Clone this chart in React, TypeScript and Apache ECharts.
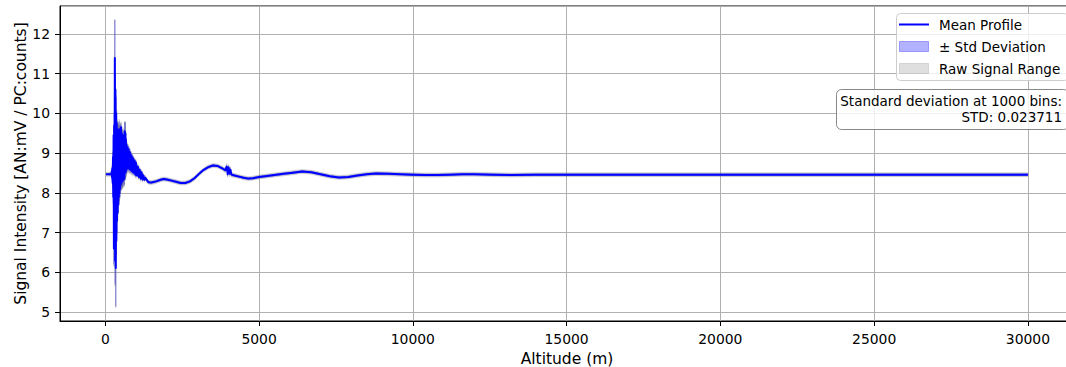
import React, { useEffect, useRef } from "react";
import * as echarts from "echarts";

// ---- Data ----
const altitude = [
  26, 100, 200, 210, 220, 230, 240, 250, 260, 270,
  280, 290, 300, 310, 320, 330, 340, 350, 360, 370,
  380, 390, 400, 410, 420, 430, 440, 450, 460, 470,
  480, 490, 500, 510, 520, 530, 540, 550, 560, 570,
  580, 590, 600, 610, 620, 630, 640, 650, 660, 670,
  680, 690, 700, 720, 740, 760, 780, 800, 820, 840,
  860, 880, 900, 920, 940, 960, 980, 1000, 1030, 1060,
  1090, 1120, 1150, 1180, 1210, 1240, 1270, 1300, 1400, 1500,
  1650, 1800, 1900, 2000, 2150, 2300, 2450, 2600, 2750, 2900,
  3050, 3200, 3350, 3500, 3650, 3800, 3900, 3950, 3980, 4010,
  4040, 4070, 4100, 4200, 4350, 4500, 4650, 4800, 5000, 5200,
  5500, 5800, 6100, 6400, 6700, 7000, 7300, 7600, 7900, 8200,
  8500, 8800, 9200, 9600, 10000, 10400, 10800, 11200, 11600, 12000,
  12600, 13200, 14000, 15000, 16500, 18000, 19500, 21000, 22500, 24000,
  25500, 27000, 28500, 30000,
];

const meanSignal = [
  8.47, 8.47, 8.47, 8.55, 8.38, 8.62, 8.25, 8.9, 7.9, 9.45,
  6.6, 9.7, 7.0, 11.39, 6.3, 10.6, 6.11, 10.0, 6.8, 9.75,
  7.3, 9.6, 7.5, 9.55, 7.7, 9.5, 7.9, 9.6, 8.0, 9.5,
  8.1, 9.55, 8.2, 9.65, 8.25, 9.5, 8.28, 9.4, 8.3, 9.45,
  8.32, 9.3, 8.38, 9.4, 8.35, 9.55, 8.5, 9.5, 8.52, 9.35,
  8.56, 9.2, 8.6, 9.15, 8.62, 9.1, 8.6, 9.02, 8.58, 8.95,
  8.55, 8.9, 8.52, 8.85, 8.5, 8.8, 8.46, 8.75, 8.44, 8.66,
  8.4, 8.58, 8.36, 8.52, 8.34, 8.44, 8.33, 8.38, 8.27, 8.26,
  8.29, 8.33, 8.35, 8.34, 8.31, 8.28, 8.25, 8.25, 8.29, 8.37,
  8.48, 8.58, 8.65, 8.69, 8.68, 8.62, 8.57, 8.66, 8.47, 8.64,
  8.49, 8.58, 8.46, 8.44, 8.41, 8.38, 8.36, 8.37, 8.4, 8.42,
  8.45, 8.48, 8.51, 8.54, 8.52, 8.47, 8.42, 8.39, 8.4, 8.44,
  8.47, 8.49, 8.48, 8.47, 8.46, 8.45, 8.45, 8.46, 8.47, 8.47,
  8.46, 8.45, 8.46, 8.46, 8.46, 8.46, 8.46, 8.46, 8.46, 8.46,
  8.46, 8.46, 8.46, 8.46,
];

const stdDev = [
  0.02, 0.02, 0.03, 0.05, 0.05, 0.08, 0.1, 0.12, 0.15, 0.2,
  0.4, 0.3, 0.4, 0.96, 0.6, 0.4, 0.97, 0.4, 0.35, 0.3,
  0.3, 0.2, 0.2, 0.2, 0.2, 0.2, 0.2, 0.2, 0.2, 0.2,
  0.2, 0.15, 0.15, 0.1, 0.15, 0.15, 0.15, 0.15, 0.15, 0.15,
  0.15, 0.15, 0.15, 0.15, 0.15, 0.22, 0.15, 0.28, 0.15, 0.15,
  0.12, 0.1, 0.1, 0.08, 0.08, 0.08, 0.08, 0.07, 0.07, 0.07,
  0.06, 0.06, 0.06, 0.05, 0.05, 0.05, 0.05, 0.05, 0.04, 0.04,
  0.04, 0.04, 0.04, 0.03, 0.03, 0.03, 0.03, 0.03, 0.025, 0.025,
  0.025, 0.025, 0.025, 0.025, 0.025, 0.025, 0.025, 0.025, 0.025, 0.025,
  0.025, 0.025, 0.025, 0.025, 0.025, 0.025, 0.03, 0.04, 0.04, 0.04,
  0.04, 0.04, 0.03, 0.025, 0.025, 0.025, 0.025, 0.025, 0.025, 0.025,
  0.025, 0.025, 0.025, 0.025, 0.025, 0.025, 0.025, 0.025, 0.025, 0.025,
  0.025, 0.025, 0.025, 0.025, 0.025, 0.025, 0.025, 0.025, 0.025, 0.025,
  0.025, 0.025, 0.025, 0.025, 0.025, 0.025, 0.025, 0.025, 0.025, 0.025,
  0.025, 0.025, 0.025, 0.025,
];

const rawSpread = [
  0.05, 0.05, 0.06, 0.09, 0.09, 0.12, 0.14, 0.16, 0.2, 0.25,
  0.45, 0.35, 0.45, 0.98, 0.65, 0.45, 0.99, 0.45, 0.4, 0.35,
  0.35, 0.25, 0.25, 0.25, 0.25, 0.25, 0.25, 0.25, 0.25, 0.25,
  0.25, 0.2, 0.2, 0.15, 0.2, 0.2, 0.2, 0.2, 0.2, 0.2,
  0.2, 0.2, 0.2, 0.2, 0.2, 0.25, 0.2, 0.3, 0.2, 0.2,
  0.16, 0.14, 0.14, 0.12, 0.12, 0.12, 0.12, 0.11, 0.11, 0.11,
  0.1, 0.1, 0.1, 0.09, 0.09, 0.09, 0.09, 0.09, 0.08, 0.08,
  0.08, 0.08, 0.08, 0.07, 0.07, 0.06, 0.06, 0.06, 0.05, 0.05,
  0.05, 0.05, 0.05, 0.05, 0.05, 0.05, 0.05, 0.05, 0.05, 0.05,
  0.05, 0.05, 0.05, 0.05, 0.05, 0.05, 0.06, 0.08, 0.08, 0.08,
  0.08, 0.08, 0.06, 0.05, 0.05, 0.05, 0.05, 0.05, 0.05, 0.05,
  0.05, 0.05, 0.05, 0.05, 0.05, 0.05, 0.05, 0.05, 0.05, 0.05,
  0.05, 0.05, 0.05, 0.05, 0.05, 0.05, 0.05, 0.05, 0.05, 0.05,
  0.05, 0.05, 0.05, 0.05, 0.05, 0.05, 0.05, 0.05, 0.05, 0.05,
  0.05, 0.05, 0.05, 0.05,
];

const legendLabels = ["Mean Profile", "± Std Deviation", "Raw Signal Range"];
const annotationLines = ["Standard deviation at 1000 bins:", "STD: 0.023711"];

const FONT = "DejaVu Sans";
const STD_COLOR = "rgba(0,0,255,0.3)";
const RAW_COLOR = "rgba(128,128,128,0.25)";

function bandSeries(name: string, low: number[], high: number[], color: string, z: number) {
  const data = altitude.map((a, i) => [a, low[i], high[i]]);
  return {
    type: "custom",
    name,
    z,
    clip: true,
    silent: true,
    data,
    encode: { x: 0, y: [1, 2] },
    renderItem: (params: any, api: any) => {
      if (params.dataIndex !== 0) return null;
      const top = data.map((d) => api.coord([d[0], d[2]]));
      const bottom = data.map((d) => api.coord([d[0], d[1]])).reverse();
      return {
        type: "polygon",
        shape: { points: top.concat(bottom) },
        style: { fill: color, stroke: color, lineWidth: 1, lineJoin: "round" },
      };
    },
  };
}

export default function App() {
  const ref = useRef<HTMLDivElement>(null);

  useEffect(() => {
    if (!ref.current) return;
    const chart = echarts.init(ref.current, undefined, { renderer: "svg" });

    const stdLow = meanSignal.map((m, i) => m - stdDev[i]);
    const stdHigh = meanSignal.map((m, i) => m + stdDev[i]);
    const rawLow = meanSignal.map((m, i) => m - rawSpread[i]);
    const rawHigh = meanSignal.map((m, i) => m + rawSpread[i]);

    const textBase = { fontFamily: FONT, fontSize: 13.5, fill: "#000" };
    const axisCommon = {
      axisLine: { show: true, onZero: false, lineStyle: { color: "#000", width: 1 } },
      axisTick: { show: true, length: 5, lineStyle: { color: "#000", width: 1 } },
      splitLine: { show: true, lineStyle: { color: "#b0b0b0", width: 1 } },
    };

    chart.setOption({
      animation: false,
      backgroundColor: "#fff",
      grid: {
        left: 60,
        top: 6,
        width: 1014,
        height: 315,
        containLabel: false,
        outerBoundsMode: "none",
        show: true,
        borderColor: "#000",
        borderWidth: 1,
        backgroundColor: "transparent",
      },
      xAxis: {
        type: "value",
        min: -1473,
        max: 31499,
        minInterval: 5000,
        maxInterval: 5000,
        ...axisCommon,
        axisLabel: {
          color: "#000",
          fontSize: 13.9,
          fontFamily: FONT,
          margin: 11,
          showMinLabel: false,
          showMaxLabel: false,
          formatter: (v: number) => String(v),
        },
        name: "Altitude (m)",
        nameLocation: "middle",
        nameGap: 27,
        nameTextStyle: { color: "#000", fontSize: 15.5, fontFamily: FONT },
      },
      yAxis: {
        type: "value",
        min: 4.78,
        max: 12.7,
        minInterval: 1,
        maxInterval: 1,
        ...axisCommon,
        axisLabel: {
          color: "#000",
          fontSize: 13.9,
          fontFamily: FONT,
          margin: 10,
          showMinLabel: false,
          showMaxLabel: false,
          formatter: (v: number) => String(v),
        },
        name: "Signal Intensity [AN:mV / PC:counts]",
        nameLocation: "middle",
        nameGap: 31,
        nameMoveOverlap: false,
        nameTextStyle: { color: "#000", fontSize: 15.5, fontFamily: FONT },
      },
      series: [
        bandSeries(legendLabels[1], stdLow, stdHigh, STD_COLOR, 1),
        bandSeries(legendLabels[2], rawLow, rawHigh, RAW_COLOR, 2),
        {
          type: "line",
          name: legendLabels[0],
          z: 3,
          data: altitude.map((a, i) => [a, meanSignal[i]]),
          showSymbol: false,
          symbol: "none",
          lineStyle: { color: "#0000ff", width: 2, join: "round" },
          silent: true,
        },
      ],
      graphic: [
        {
          type: "rect",
          z: 100,
          shape: { x: 896.5, y: 13.5, width: 172, height: 67, r: 4 },
          style: { fill: "rgba(255,255,255,0.8)", stroke: "#cccccc", lineWidth: 1 },
        },
        {
          type: "line",
          z: 101,
          shape: { x1: 899, y1: 24.5, x2: 929, y2: 24.5 },
          style: { stroke: "#0000ff", lineWidth: 2 },
        },
        {
          type: "rect",
          z: 101,
          shape: { x: 899.5, y: 41.5, width: 29, height: 10 },
          style: { fill: STD_COLOR, stroke: STD_COLOR, lineWidth: 1 },
        },
        {
          type: "rect",
          z: 101,
          shape: { x: 899.5, y: 63.5, width: 29, height: 10 },
          style: { fill: RAW_COLOR, stroke: RAW_COLOR, lineWidth: 1 },
        },
        {
          type: "text",
          z: 101,
          x: 939,
          y: 24.5,
          style: { ...textBase, text: legendLabels[0], align: "left", verticalAlign: "middle" },
        },
        {
          type: "text",
          z: 101,
          x: 939,
          y: 46.5,
          style: { ...textBase, text: legendLabels[1], align: "left", verticalAlign: "middle" },
        },
        {
          type: "text",
          z: 101,
          x: 939,
          y: 68.5,
          style: { ...textBase, text: legendLabels[2], align: "left", verticalAlign: "middle" },
        },
        {
          type: "rect",
          z: 100,
          shape: { x: 836.5, y: 89.5, width: 232, height: 40, r: 5 },
          style: { fill: "rgba(255,255,255,0.8)", stroke: "#888888", lineWidth: 1 },
        },
        {
          type: "text",
          z: 101,
          x: 1062,
          y: 100.5,
          style: { ...textBase, text: annotationLines[0], align: "right", verticalAlign: "middle" },
        },
        {
          type: "text",
          z: 101,
          x: 1062,
          y: 117,
          style: { ...textBase, text: annotationLines[1], align: "right", verticalAlign: "middle" },
        },
      ],
    });

    return () => chart.dispose();
  }, []);

  return (
    <div
      style={{
        position: "fixed",
        left: 0,
        top: 0,
        width: 1066,
        height: 367,
        background: "#fff",
        overflow: "hidden",
      }}
    >
      <div ref={ref} style={{ width: 1066, height: 367 }} />
    </div>
  );
}
